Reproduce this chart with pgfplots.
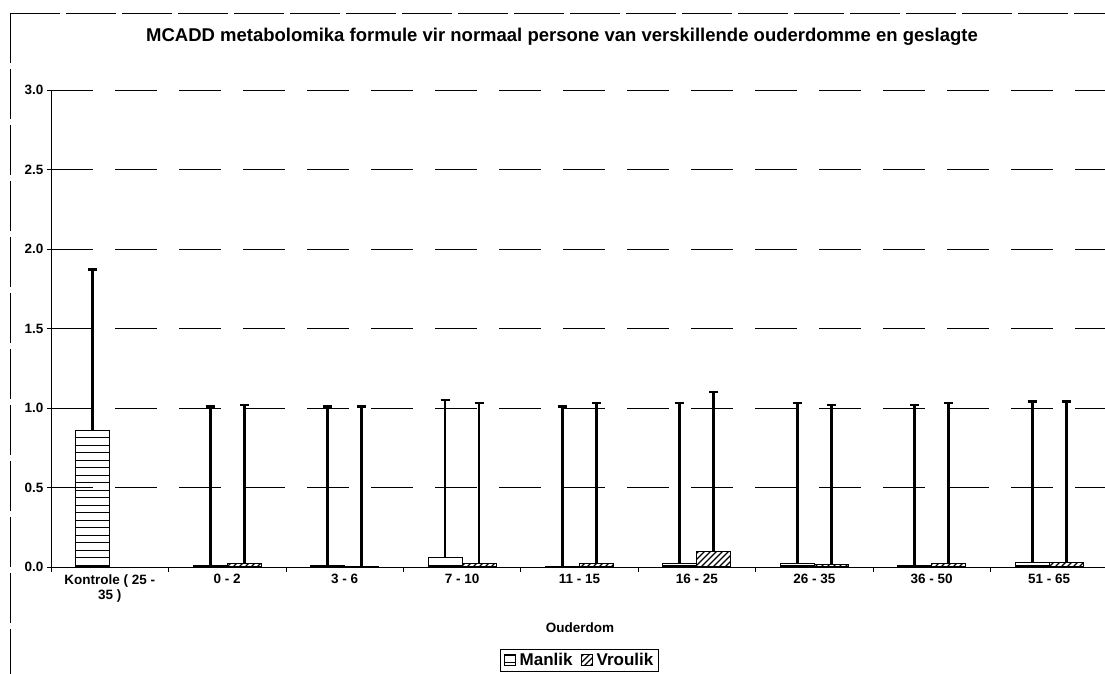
\documentclass[border=0pt]{standalone}
\usepackage{fontspec}
\setmainfont{Liberation Sans}
\usepackage{pgfplots}
\pgfplotsset{compat=1.18}
\usetikzlibrary{patterns}
\pgfdeclarepatternformonly{hlinesW}{\pgfpoint{-1pt}{-1pt}}{\pgfpoint{8.5pt}{8.5pt}}{\pgfpoint{7.5pt}{7.5pt}}%
{\pgfsetlinewidth{1.2pt}\pgfpathmoveto{\pgfpoint{-1pt}{3.75pt}}\pgfpathlineto{\pgfpoint{8.5pt}{3.75pt}}\pgfusepath{stroke}}
\pgfdeclarepatternformonly{nelinesW}{\pgfpoint{-1pt}{-1pt}}{\pgfpoint{7pt}{7pt}}{\pgfpoint{6pt}{6pt}}%
{\pgfsetlinewidth{1.1pt}\pgfpathmoveto{\pgfpoint{0pt}{0pt}}\pgfpathlineto{\pgfpoint{6.1pt}{6.1pt}}\pgfusepath{stroke}}
\newcommand\fTick{\fontsize{13.5}{15}\selectfont\bfseries}
\newcommand\fLeg{\fontsize{17}{19}\selectfont\bfseries}
\newcommand\fTitle{\fontsize{18.5}{21}\selectfont\bfseries}
\begin{document}
\begin{tikzpicture}
\draw[line width=0.7pt, dash pattern=on 50pt off 6pt] (10pt,661pt) -- (1110pt,661pt);
\draw[line width=0.7pt, dash pattern=on 50pt off 6pt] (10pt,661pt) -- (10pt,-5pt);
\node[font=\fTitle] at (562pt,637pt) {MCADD metabolomika formule vir normaal persone van verskillende ouderdomme en geslagte};
\node[font=\fTick] at (580pt,46pt) {Ouderdom};
\begin{axis}[
  at={(51pt,107pt)}, anchor=south west,
  scale only axis, width=1057pt, height=477pt,
  xmin=-0.5, xmax=8.5, ymin=0, ymax=3,
  axis x line*=bottom, axis y line*=left,
  axis line style={line width=0.8pt, -},
  xtick={0,1,2,3,4,5,6,7,8},
  xticklabels={{Kontrole ( 25 -\\35 )},0 - 2,3 - 6,7 - 10,11 - 15,16 - 25,26 - 35,36 - 50,51 - 65},
  xticklabel style={align=center, font=\fTick},
  minor xtick={-0.5,0.5,1.5,2.5,3.5,4.5,5.5,6.5,7.5,8.5},
  major x tick style={draw=none},
  minor tick length=5pt,
  ytick={0,0.5,1,1.5,2,2.5,3},
  yticklabel style={font=\fTick},
  yticklabel={\pgfmathprintnumber[fixed, fixed zerofill, precision=1, assume math mode=true]{\tick}},
  tick align=outside, major tick length=4pt,
  tick style={black, line width=0.6pt},
  ymajorgrids, grid style={black, line width=0.7pt, dash pattern=on 42pt off 22pt},
  ybar, bar width=34pt,
  legend columns=2,
  legend style={at={(0.5,-0.172)}, anchor=north, draw=black, line width=0.6pt, font=\fLeg,
    /tikz/every odd column/.append style={column sep=2pt},
    /tikz/every even column/.append style={column sep=6pt}},
  area legend,
  legend image post style={xscale=0.65, yscale=2},
]
\addplot[draw=black, line width=1pt, pattern=hlinesW, bar shift=-17pt,
  error bars/.cd, y dir=plus, y explicit,
  error bar style={line width=2.8pt, black},
  error mark options={rotate=90, line width=2.4pt, mark size=4.5pt, black}]
coordinates {
 (0,0.86) +- (0,1.01)
 (1,0.01) +- (0,1.00)
 (2,0.01) +- (0,1.00)
 (3,0.06) +- (0,0.99)
 (4,0.005) +- (0,1.005)
 (5,0.02) +- (0,1.01)
 (6,0.02) +- (0,1.01)
 (7,0.01) +- (0,1.01)
 (8,0.03) +- (0,1.01)
};
\addlegendentry{Manlik}
\addplot[draw=black, line width=1pt, pattern=nelinesW, bar shift=17pt,
  error bars/.cd, y dir=plus, y explicit,
  error bar style={line width=2.8pt, black},
  error mark options={rotate=90, line width=2.4pt, mark size=4.5pt, black}]
coordinates {
 (1,0.02) +- (0,1.00)
 (2,0.005) +- (0,1.005)
 (3,0.02) +- (0,1.01)
 (4,0.02) +- (0,1.01)
 (5,0.10) +- (0,1.00)
 (6,0.015) +- (0,1.005)
 (7,0.02) +- (0,1.01)
 (8,0.03) +- (0,1.01)
};
\addlegendentry{Vroulik}
\end{axis}
\pgfresetboundingbox
\useasboundingbox (0pt,0pt) rectangle (1105pt,674pt);
\end{tikzpicture}
\end{document}
